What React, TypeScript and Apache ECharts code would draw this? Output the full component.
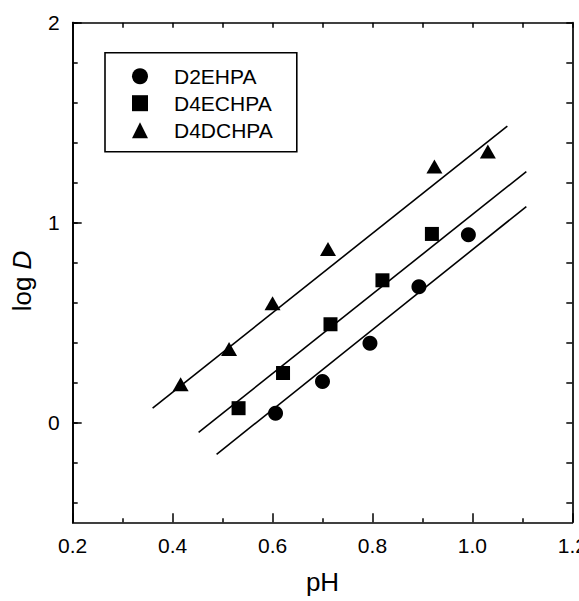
import React, { useEffect, useRef } from "react";
import * as echarts from "echarts";

// Measured distribution data (pH vs log D) for three extractants
const seriesNames = ["D2EHPA", "D4ECHPA", "D4DCHPA"];
const seriesSymbols = ["circle", "rect", "triangle"];

const d2ehpaPH = [0.606, 0.700, 0.795, 0.893, 0.992];
const d2ehpaLogD = [0.046, 0.204, 0.396, 0.679, 0.939];

const d4echpaPH = [0.532, 0.621, 0.716, 0.820, 0.919];
const d4echpaLogD = [0.071, 0.247, 0.491, 0.711, 0.943];

const d4dchpaPH = [0.416, 0.513, 0.600, 0.711, 0.924, 1.031];
const d4dchpaLogD = [0.191, 0.367, 0.596, 0.868, 1.280, 1.355];

// Fitted straight lines: end points [pH, log D]
const d2ehpaFitPH = [0.488, 1.108];
const d2ehpaFitLogD = [-0.160, 1.080];
const d4echpaFitPH = [0.452, 1.108];
const d4echpaFitLogD = [-0.050, 1.255];
const d4dchpaFitPH = [0.360, 1.070];
const d4dchpaFitLogD = [0.071, 1.483];

// Axis ticks
const yMajorTicks = [0, 1, 2];
const yMinorTicks = [-0.4, -0.2, 0, 0.2, 0.4, 0.6, 0.8, 1, 1.2, 1.4, 1.6, 1.8, 2];

const pairs = (xs: number[], ys: number[]) => xs.map((x, i) => [x, ys[i]]);

const FONT = "'Liberation Sans', Arial, Helvetica, sans-serif";
const INK = "#000";

export default function App() {
  const ref = useRef<HTMLDivElement>(null);

  useEffect(() => {
    if (!ref.current) return;
    const chart = echarts.init(ref.current, undefined, { renderer: "svg" });

    const points = [
      pairs(d2ehpaPH, d2ehpaLogD),
      pairs(d4echpaPH, d4echpaLogD),
      pairs(d4dchpaPH, d4dchpaLogD),
    ];
    const fits = [
      pairs(d2ehpaFitPH, d2ehpaFitLogD),
      pairs(d4echpaFitPH, d4echpaFitLogD),
      pairs(d4dchpaFitPH, d4dchpaFitLogD),
    ];

    const axisLine = { show: true, onZero: false, lineStyle: { color: INK, width: 1.7 } };

    const xBase = {
      type: "value" as const,
      min: 0.2,
      max: 1.2,
      interval: 0.2,
      splitLine: { show: false },
      axisLine,
    };
    const yBase = {
      type: "value" as const,
      min: -0.5,
      max: 2,
      splitLine: { show: false },
      axisLine,
    };

    chart.setOption({
      animation: false,
      backgroundColor: "#fff",
      textStyle: { fontFamily: FONT },
      grid: {
        left: 72.7,
        right: 6.7,
        top: 22.7,
        bottom: 78.7,
        containLabel: false,
        outerBoundsMode: "none",
      },
      legend: {
        orient: "vertical",
        left: 105,
        top: 52.7,
        data: seriesNames,
        itemWidth: 16,
        itemHeight: 16,
        itemGap: 6,
        padding: [13, 24, 11, 27],
        borderColor: INK,
        borderWidth: 1.6,
        borderRadius: 0,
        textStyle: {
          fontFamily: FONT,
          fontSize: 21,
          color: INK,
          lineHeight: 16,
          padding: [0, 0, 0, 21],
        },
      },
      xAxis: [
        {
          ...xBase,
          position: "bottom",
          name: "pH",
          nameLocation: "middle",
          nameGap: 47,
          nameTextStyle: { fontFamily: FONT, fontSize: 26, color: INK },
          axisTick: { show: true, inside: true, length: 9, lineStyle: { color: INK, width: 1.5 } },
          minorTick: { show: true, splitNumber: 2, length: 4, lineStyle: { color: INK, width: 1.5 } },
          axisLabel: {
            show: true,
            margin: 13,
            fontFamily: FONT,
            fontSize: 21,
            color: INK,
            formatter: (v: number) => v.toFixed(1),
          },
        },
        {
          ...xBase,
          position: "top",
          axisTick: { show: true, inside: true, length: 5, lineStyle: { color: INK, width: 1.5 } },
          minorTick: { show: true, splitNumber: 2, length: 5, lineStyle: { color: INK, width: 1.5 } },
          axisLabel: { show: false },
        },
      ],
      yAxis: [
        {
          ...yBase,
          position: "left",
          name: "log {i|D}",
          nameLocation: "middle",
          nameGap: 38,
          nameRotate: 90,
          nameTextStyle: {
            fontFamily: FONT,
            fontSize: 26,
            color: INK,
            padding: [0, 17, 0, 0],
            rich: { i: { fontFamily: FONT, fontSize: 26, fontStyle: "italic", color: INK } },
          },
          axisTick: {
            show: true,
            inside: true,
            length: 9,
            customValues: yMajorTicks,
            lineStyle: { color: INK, width: 1.5 },
          },
          axisLabel: {
            show: true,
            margin: 13,
            fontFamily: FONT,
            fontSize: 21,
            color: INK,
            customValues: yMajorTicks,
            formatter: (v: number) => String(Math.round(v)),
          },
        },
        {
          ...yBase,
          position: "left",
          axisTick: {
            show: true,
            inside: true,
            length: 5,
            customValues: yMinorTicks,
            lineStyle: { color: INK, width: 1.5 },
          },
          axisLabel: { show: false },
        },
        {
          ...yBase,
          position: "right",
          axisTick: {
            show: true,
            inside: true,
            length: 6,
            customValues: yMinorTicks,
            lineStyle: { color: INK, width: 1.5 },
          },
          axisLabel: { show: false },
        },
      ],
      series: [
        ...fits.map((data, i) => ({
          name: seriesNames[i] + " fit",
          type: "line",
          xAxisIndex: 0,
          yAxisIndex: 0,
          data,
          showSymbol: false,
          symbol: "none",
          silent: true,
          lineStyle: { color: INK, width: 1.6 },
          z: 2,
        })),
        ...points.map((data, i) => ({
          name: seriesNames[i],
          type: "scatter",
          xAxisIndex: 0,
          yAxisIndex: 0,
          data,
          symbol: seriesSymbols[i],
          symbolSize: i === 2 ? [16, 14] : i === 1 ? 14 : 15,
          itemStyle: { color: INK, opacity: 1 },
          z: 3,
        })),
      ],
    });

    return () => chart.dispose();
  }, []);

  return (
    <div
      ref={ref}
      style={{ position: "fixed", left: 0, top: 0, width: 579, height: 601, background: "#fff" }}
    />
  );
}
